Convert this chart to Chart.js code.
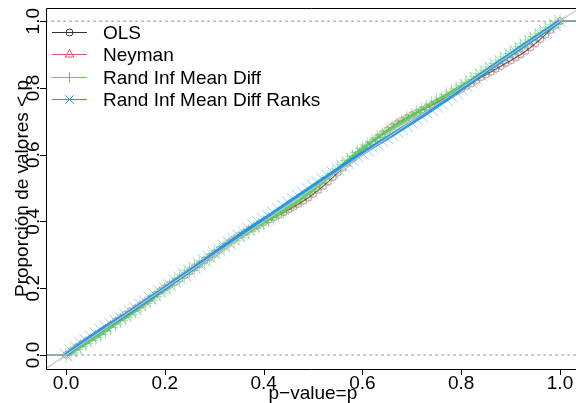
<!DOCTYPE html>
<html><head><meta charset="utf-8">
<script src="https://cdn.jsdelivr.net/npm/chart.js@4.4.1/dist/chart.umd.min.js"></script>
<style>html,body{margin:0;padding:0;background:#fff;overflow:hidden}#wrap{width:576px;height:403px}</style>
</head><body><div id="wrap"><canvas id="c" width="576" height="403"></canvas></div>
<script>
// ---- data ----
const P = [0.00,0.01,0.02,0.03,0.04,0.05,0.06,0.07,0.08,0.09,0.10,0.11,0.12,0.13,0.14,0.15,0.16,0.17,0.18,0.19,0.20,0.21,0.22,0.23,0.24,0.25,0.26,0.27,0.28,0.29,0.30,0.31,0.32,0.33,0.34,0.35,0.36,0.37,0.38,0.39,0.40,0.41,0.42,0.43,0.44,0.45,0.46,0.47,0.48,0.49,0.50,0.51,0.52,0.53,0.54,0.55,0.56,0.57,0.58,0.59,0.60,0.61,0.62,0.63,0.64,0.65,0.66,0.67,0.68,0.69,0.70,0.71,0.72,0.73,0.74,0.75,0.76,0.77,0.78,0.79,0.80,0.81,0.82,0.83,0.84,0.85,0.86,0.87,0.88,0.89,0.90,0.91,0.92,0.93,0.94,0.95,0.96,0.97,0.98,0.99,1.00];
const F_OLS = [0.000,0.011,0.022,0.032,0.041,0.050,0.059,0.069,0.079,0.090,
  0.101,0.111,0.121,0.130,0.139,0.148,0.158,0.169,0.180,0.191,
  0.201,0.210,0.219,0.228,0.239,0.250,0.261,0.272,0.283,0.293,
  0.304,0.315,0.326,0.337,0.347,0.357,0.366,0.375,0.383,0.391,
  0.398,0.405,0.412,0.419,0.427,0.435,0.443,0.452,0.461,0.471,
  0.482,0.493,0.505,0.518,0.532,0.546,0.560,0.574,0.588,0.601,
  0.614,0.626,0.638,0.650,0.662,0.673,0.684,0.694,0.703,0.711,
  0.719,0.726,0.733,0.740,0.748,0.756,0.764,0.772,0.780,0.789,
  0.797,0.805,0.813,0.822,0.832,0.840,0.848,0.857,0.865,0.874,
  0.882,0.891,0.900,0.910,0.921,0.933,0.946,0.959,0.973,0.986,1.000];
const F_NEYMAN = [0.000,0.011,0.022,0.032,0.041,0.050,0.059,0.069,0.079,0.090,
  0.101,0.111,0.121,0.130,0.139,0.148,0.158,0.169,0.180,0.191,
  0.201,0.210,0.219,0.228,0.239,0.250,0.261,0.272,0.283,0.293,
  0.304,0.315,0.326,0.337,0.347,0.356,0.365,0.374,0.382,0.390,
  0.397,0.404,0.411,0.418,0.426,0.434,0.442,0.451,0.460,0.470,
  0.481,0.493,0.505,0.518,0.532,0.546,0.560,0.574,0.588,0.601,
  0.614,0.626,0.638,0.650,0.662,0.673,0.683,0.693,0.702,0.710,
  0.718,0.726,0.733,0.740,0.748,0.756,0.764,0.772,0.780,0.789,
  0.797,0.805,0.813,0.822,0.831,0.839,0.847,0.856,0.864,0.873,
  0.881,0.890,0.899,0.909,0.920,0.932,0.945,0.958,0.972,0.986,1.000];
const F_RAND = [0.000,0.007,0.016,0.025,0.034,0.044,0.053,0.062,0.072,0.082,0.093,0.103,0.112,0.121,0.132,0.143,0.154,0.164,0.175,0.186,0.197,0.208,0.220,0.231,0.242,0.253,0.263,0.273,0.282,0.292,0.303,0.314,0.324,0.334,0.343,0.352,0.361,0.370,0.379,0.388,0.396,0.405,0.413,0.422,0.431,0.441,0.451,0.461,0.472,0.483,0.494,0.506,0.518,0.531,0.544,0.557,0.570,0.583,0.595,0.607,0.618,0.629,0.640,0.651,0.661,0.671,0.681,0.690,0.699,0.708,0.717,0.726,0.735,0.743,0.752,0.761,0.770,0.779,0.788,0.797,0.806,0.815,0.824,0.834,0.843,0.853,0.863,0.873,0.883,0.893,0.903,0.914,0.924,0.934,0.944,0.954,0.964,0.973,0.982,0.991,1.000];
const F_RANKS = [0.000,0.012,0.023,0.034,0.044,0.054,0.064,0.074,0.084,0.093,0.102,0.111,0.120,0.130,0.140,0.150,0.160,0.170,0.180,0.190,0.200,0.210,0.221,0.231,0.241,0.251,0.261,0.272,0.283,0.294,0.305,0.315,0.326,0.336,0.346,0.357,0.367,0.377,0.387,0.397,0.406,0.416,0.426,0.436,0.446,0.456,0.466,0.476,0.486,0.496,0.506,0.516,0.526,0.536,0.546,0.556,0.566,0.576,0.585,0.595,0.604,0.614,0.623,0.632,0.641,0.650,0.659,0.669,0.678,0.687,0.696,0.706,0.715,0.725,0.735,0.745,0.755,0.765,0.776,0.786,0.797,0.807,0.818,0.829,0.839,0.849,0.860,0.870,0.880,0.890,0.900,0.910,0.920,0.930,0.940,0.950,0.960,0.970,0.980,0.990,1.000];
const SERIES_NAMES = ['OLS','Neyman','Rand Inf Mean Diff','Rand Inf Mean Diff Ranks'];
const X_TICKS = [0,0.2,0.4,0.6,0.8,1.0];
const X_TICK_LABELS = ['0.0','0.2','0.4','0.6','0.8','1.0'];
const Y_TICKS = [0,0.2,0.4,0.6,0.8,1.0];
const Y_TICK_LABELS = ['0.0','0.2','0.4','0.6','0.8','1.0'];
const REF_LEVELS = [0,1];           // dashed horizontal reference lines
const TAIL_LOW = -0.2, TAIL_HIGH = 1.2; // ECDF flat tails (0 below min, 1 above max)
const X_TITLE = 'p\u2212value=p';
const Y_TITLE = 'Proporci\u00f3n de valores < p';

// ---- styles ----
const FONT = '"Liberation Sans", Arial, Helvetica, sans-serif';
const STYLES = [
  {line:'rgba(0,0,0,0.9)', lw:1, pt:'rgba(0,0,0,0.25)', style:'circle', r:3.5},
  {line:'rgba(200,60,85,0.85)', lw:1, pt:'rgba(223,83,107,0.30)', style:'triangle', r:4.5},
  {line:'rgba(97,208,79,0.9)', lw:3, pt:'rgba(97,208,79,0.55)', style:'cross', r:7.5},
  {line:'rgba(34,151,230,0.95)', lw:4, pt:'rgba(34,151,230,0.45)', style:'crossRot', r:9}
];
const LEGEND_COLORS = ['#333333','#DF536B','#61D04F','#2297E6'];
const LEGEND_R = [3.5, 5, 5.5, 6];

function ecdfData(F){
  const d = [{x:TAIL_LOW, y:0}];
  for (let i=0;i<P.length;i++) d.push({x:P[i], y:F[i]});
  d.push({x:TAIL_HIGH, y:1});
  return d;
}
const FS = [F_OLS, F_NEYMAN, F_RAND, F_RANKS];
const datasets = FS.map((F,k)=>({
  label: SERIES_NAMES[k],
  data: ecdfData(F),
  showLine: true,
  borderColor: STYLES[k].line,
  borderWidth: STYLES[k].lw,
  segment: {borderWidth: (c)=> (c.p0DataIndex===0 || c.p1DataIndex===F.length+1) ? 1.2 : STYLES[k].lw,
            borderColor: (c)=> (c.p0DataIndex===0 || c.p1DataIndex===F.length+1) ? 'rgba(100,140,150,0.5)' : STYLES[k].line},
  pointStyle: STYLES[k].style,
  pointRadius: (c)=> (c.dataIndex===0 || c.dataIndex===F.length+1) ? 0 : STYLES[k].r,
  pointBorderColor: STYLES[k].pt,
  pointBackgroundColor: 'rgba(0,0,0,0)',
  pointBorderWidth: 1,
  order: 10-k
}));
// diagonal y = x
datasets.push({label:'diag', data:[{x:TAIL_LOW,y:TAIL_LOW},{x:TAIL_HIGH,y:TAIL_HIGH}], showLine:true,
  borderColor:'rgba(195,195,195,1)', borderWidth:1.2, pointRadius:0, order:2});
REF_LEVELS.forEach(v=>datasets.push({label:'ref'+v, data:[{x:TAIL_LOW,y:v},{x:TAIL_HIGH,y:v}], showLine:true,
  borderColor:'rgba(150,150,150,1)', borderWidth:1, borderDash:[3,3], pointRadius:0, order:3}));

const axesPlugin = {
  id:'rAxes',
  afterDraw(chart){
    const ctx = chart.ctx, a = chart.chartArea, xs = chart.scales.x, ys = chart.scales.y;
    ctx.save();
    ctx.strokeStyle = '#000'; ctx.lineWidth = 1;
    ctx.beginPath();
    ctx.moveTo(Math.round(a.left)+0.5, Math.round(a.bottom)+0.5);
    ctx.lineTo(Math.round(a.left)+0.5, Math.round(a.top)+0.5);
    ctx.lineTo(a.right+2, Math.round(a.top)+0.5);
    ctx.moveTo(Math.round(a.left)+0.5, Math.round(a.bottom)+0.5);
    ctx.lineTo(a.right+2, Math.round(a.bottom)+0.5);
    ctx.stroke();
    ctx.fillStyle = '#000';
    ctx.font = '19px ' + FONT;
    X_TICKS.forEach((v,i)=>{
      const px = Math.round(xs.getPixelForValue(v))+0.5;
      ctx.beginPath(); ctx.moveTo(px, Math.round(a.bottom)); ctx.lineTo(px, Math.round(a.bottom)+6); ctx.stroke();
      ctx.textAlign='center'; ctx.textBaseline='alphabetic';
      ctx.fillText(X_TICK_LABELS[i], xs.getPixelForValue(v), a.bottom+20);
    });
    Y_TICKS.forEach((v,i)=>{
      const py = Math.round(ys.getPixelForValue(v))+0.5;
      ctx.beginPath(); ctx.moveTo(Math.round(a.left), py); ctx.lineTo(Math.round(a.left)-6, py); ctx.stroke();
      ctx.save();
      ctx.translate(a.left-7, ys.getPixelForValue(v));
      ctx.rotate(-Math.PI/2);
      ctx.textAlign='center'; ctx.textBaseline='alphabetic';
      ctx.fillText(Y_TICK_LABELS[i], 0, 0);
      ctx.restore();
    });
    ctx.textAlign='center'; ctx.textBaseline='alphabetic';
    ctx.fillText(X_TITLE, (xs.getPixelForValue(xs.min)+xs.getPixelForValue(1.04))/2, a.bottom+30);
    ctx.save();
    ctx.translate(a.left-18, (a.top+a.bottom)/2);
    ctx.rotate(-Math.PI/2);
    ctx.fillText(Y_TITLE, 0, 0);
    ctx.restore();
    // legend
    const lx0 = a.left+6, lx1 = a.left+41, tx = a.left+57;
    SERIES_NAMES.forEach((name,k)=>{
      const y = Math.round(a.top + 23.5 + k*22.6)+0.5;
      ctx.strokeStyle = LEGEND_COLORS[k]; ctx.lineWidth=1;
      ctx.beginPath(); ctx.moveTo(lx0, y); ctx.lineTo(lx1, y); ctx.stroke();
      ctx.fillStyle = 'rgba(0,0,0,0)';
      ctx.strokeStyle = LEGEND_COLORS[k];
      Chart.helpers.drawPoint(ctx, {pointStyle:STYLES[k].style, radius:LEGEND_R[k], rotation:0, borderWidth:1}, (lx0+lx1)/2, y);
      ctx.fillStyle = '#000';
      ctx.textAlign='left'; ctx.textBaseline='middle';
      ctx.fillText(name, tx, y+1);
    });
    ctx.restore();
  }
};

new Chart(document.getElementById('c'), {
  type:'scatter',
  data:{datasets},
  options:{
    responsive:false, animation:false, devicePixelRatio:1,
    layout:{padding:{left:46, top:8, right:0, bottom:34}},
    scales:{
      x:{type:'linear', min:-0.0405, max:1.0324, display:false},
      y:{type:'linear', min:-0.042, max:1.0395, display:false}
    },
    plugins:{legend:{display:false}, tooltip:{enabled:false}},
    elements:{line:{tension:0}}
  },
  plugins:[axesPlugin]
});
</script></body></html>
